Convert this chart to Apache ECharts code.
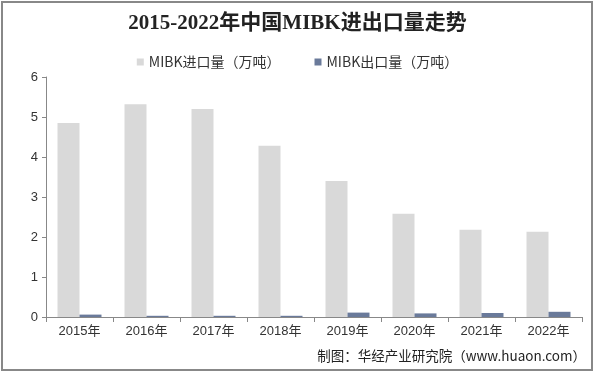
<!DOCTYPE html>
<html><head><meta charset="utf-8">
<script src="https://cdn.jsdelivr.net/npm/echarts@6/dist/echarts.min.js"></script>
<style>html,body{margin:0;padding:0;background:#fff}#c{width:595px;height:374px}</style>
</head><body><div id="c"></div>
<script>
const categories = ['2015年','2016年','2017年','2018年','2019年','2020年','2021年','2022年'];
const importValues = [4.85, 5.32, 5.2, 4.28, 3.4, 2.58, 2.18, 2.13];
const exportValues = [0.06, 0.03, 0.03, 0.03, 0.11, 0.09, 0.1, 0.13];
const seriesNames = ['MIBK进口量（万吨）', 'MIBK出口量（万吨）'];
const titleText = '2015-2022年中国MIBK进出口量走势';
const sourceText = '制图：华经产业研究院（www.huaon.com）';

const chart = echarts.init(document.getElementById('c'), null, {renderer:'canvas'});
chart.setOption({
  animation: false,
  backgroundColor: '#fff',
  title: [{
    text: titleText, left: 'center', top: 8,
    textStyle: {fontFamily: '"Liberation Serif", "Noto Sans CJK SC"', fontWeight: 'bold', fontSize: 21, color: '#222'}
  }, {
    text: sourceText, right: 4, top: 344,
    textStyle: {fontFamily: '"Noto Sans CJK SC"', fontWeight: 'normal', fontSize: 13.5, color: '#222'}
  }],
  legend: {
    top: 50, left: 'center', itemWidth: 7, itemHeight: 7, itemGap: 34, icon: 'rect',
    textStyle: {fontFamily: '"Noto Sans CJK SC"', fontSize: 14, color: '#333'},
    data: seriesNames
  },
  grid: {left: 46, right: 13, top: 77, bottom: 57},
  xAxis: {
    type: 'category', data: categories,
    axisLine: {lineStyle: {color: '#888'}},
    axisTick: {show: true, length: 5, lineStyle: {color: '#888'}},
    axisLabel: {fontFamily: 'Liberation Sans, "Noto Sans CJK SC"', fontSize: 13, color: '#333', margin: 8}
  },
  yAxis: {
    type: 'value', min: 0, max: 6, interval: 1,
    axisLine: {show: true, lineStyle: {color: '#888'}},
    axisTick: {show: true, length: 4, lineStyle: {color: '#888'}},
    splitLine: {show: false},
    axisLabel: {fontFamily: 'Liberation Sans', fontSize: 13, color: '#333', margin: 8}
  },
  series: [{
    name: seriesNames[0], type: 'bar', data: importValues,
    itemStyle: {color: '#d9d9d9'}, barWidth: 22, barGap: '0%'
  }, {
    name: seriesNames[1], type: 'bar', data: exportValues,
    itemStyle: {color: '#6a7a9a'}, barWidth: 22, barGap: '0%'
  }],
  graphic: [{
    type: 'rect', shape: {x: 2, y: 2, width: 590, height: 368},
    style: {fill: null, stroke: '#888', lineWidth: 2}, silent: true
  }]
});
</script></body></html>
